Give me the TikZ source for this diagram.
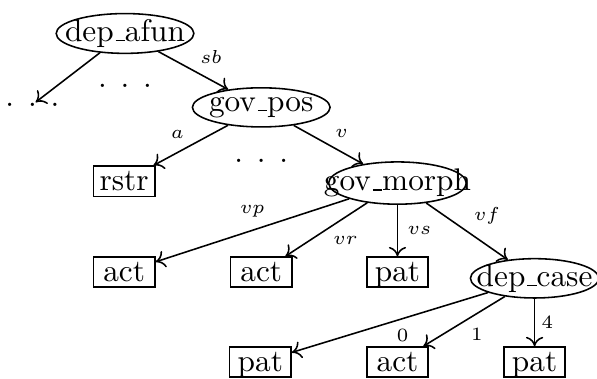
\documentclass[tikz,border=0pt]{standalone}
\usepackage{amsmath,amssymb}
\usepackage{tikz}
\usetikzlibrary{positioning}
\usetikzlibrary{arrows.meta, shapes.geometric}
\newcommand{\tightname}[1]{\makebox[0pt]{#1}}
\newcommand{\usc}{\kern.06em\vbox{\hrule width.3em}}

\begin{document}
\begin{tikzpicture}[main/.style = {draw, ellipse, inner sep=0pt, minimum width=44pt, minimum height=12.5pt},
  leaf/.style = {draw, rectangle, minimum width=19.6pt, inner xsep=2pt, inner ysep=0.7pt, text height=7pt, text depth=1.2pt},
  dots/.style = {inner sep=0pt},
  lab/.style = {font=\fontsize{6}{7}\selectfont, inner sep=2pt},
  >={To[length=3pt, width=5.5pt]}, line width=0.5pt,
  on grid]
\useasboundingbox (-1.404,0.376) rectangle (5.301,-3.880);
% upper part of the tree
\node[main] (afun) {\tightname{dep\usc afun}};
\node[dots] (ldots) [below left=0.80cm and 1.04cm of afun] {. . .};
\node[dots] (mdots1) [below=0.59cm of afun] {. . .};
\node[main] (pos) [below right=0.83cm and 1.53cm of afun] {\tightname{gov\usc pos}};
\node[leaf] (rstr) [below left=0.83cm and 1.54cm of pos] {rstr};
\node[dots] (mdots2) [below=0.60cm of pos] {. . .};
\node[main, minimum height=13.5pt] (morph) [below right=0.85cm and 1.53cm of pos] {\tightname{gov\usc morph}};
% children of gov_morph
\node[leaf] (pat1) [below=1.0cm of morph] {pat};
\node[leaf] (act2) [left=1.53cm of pat1] {act};
\node[leaf] (act1) [left=1.54cm of act2] {act};
\node[main, minimum width=41pt] (case) [below right=0.07cm and 1.54cm of pat1] {\tightname{dep\usc case}};
% children of dep_case
\node[leaf] (act3) [below=1.01cm of pat1] {act};
\node[leaf] (pat2) [left=1.54cm of act3] {pat};
\node[leaf] (pat3) [right=1.54cm of act3] {pat};

\path (afun) edge [->] (ldots);
\path (afun) edge [->] node [lab, above right] {$sb$} (pos);
\path (pos) edge [->] node [lab, above left] {$a$} (rstr);
\path (pos) edge [->] node [lab, above right] {$v$} (morph);
\path (morph) edge [->] node [lab, above, inner sep=4pt] {$vp$} (act1);
\path (morph) edge [->] node [lab, below right] {$vr$} (act2);
\path (morph) edge [->] node [lab, right, inner sep=3pt] {$vs$} (pat1);
\path (morph) edge [->] node [lab, above right] {$vf$} (case);
\path (case) edge [->] node [lab, below right] {$0$} (pat2);
\path (case) edge [->] node [lab, below right] {$1$} (act3);
\path (case) edge [->] node [lab, right] {$4$} (pat3);
\end{tikzpicture}
\end{document}
